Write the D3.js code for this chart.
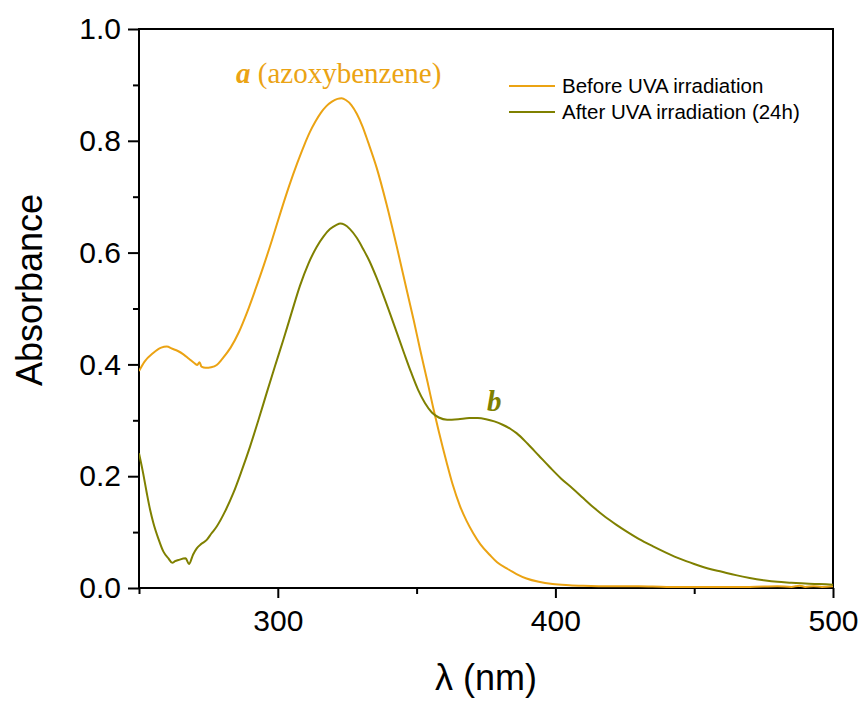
<!DOCTYPE html>
<html>
<head>
<meta charset="utf-8">
<script src="https://cdn.jsdelivr.net/npm/d3@7"></script>
<style>
  html, body { margin: 0; padding: 0; background: #fff; }
  svg { display: block; }
</style>
</head>
<body>
<svg id="chart" width="864" height="702"></svg>
<script>
// ---------- DATA ----------
const beforeWl = [250,252,255,258,260,262,264,266,268,270,271,271.8,272.5,274,276,278,280,283,286,289,292,295,298,301,304,307,309.5,311.5,313.5,315.5,317.5,319.5,321.5,323,324.5,326.5,328.5,330.5,332.5,335.6,339.2,342.8,346.4,349,351.2,354,356,358,360.8,363,365.6,368,370.4,373,376.4,379,382.5,386,389.6,394,399,405,410,420,430,440,450,460,470,480,485,488,490,493,496,500];
const beforeAbs = [0.388,0.405,0.420,0.430,0.432,0.428,0.424,0.418,0.410,0.402,0.399,0.404,0.396,0.394,0.395,0.399,0.410,0.430,0.458,0.494,0.535,0.578,0.624,0.672,0.718,0.760,0.792,0.815,0.834,0.850,0.862,0.870,0.875,0.876,0.873,0.864,0.848,0.826,0.798,0.752,0.686,0.612,0.534,0.478,0.428,0.367,0.322,0.280,0.225,0.185,0.147,0.120,0.098,0.078,0.059,0.046,0.035,0.025,0.017,0.011,0.007,0.005,0.004,0.003,0.003,0.002,0.002,0.002,0.002,0.003,0.002,0.004,0.002,0.003,0.002,0.003];

const afterWl = [250,251.5,252.8,254,255.2,257,258.8,260.6,262,263,264.2,266.8,268,269.5,270.8,272.5,274.4,276,278,281,284,287,290,293,296,299,302,305,308,311,314,316.5,318.8,321,322.5,324,326,328.5,330.8,333,335.5,338,340.5,343,345.5,348,350.5,353,355.5,358,361,365,369,372,375,378,381,384,386,390,394,398,402,406,410,414,418,422,426,430,435,440,445,450,455,460,465,470,475,480,485,490,495,500];
const afterAbs = [0.241,0.205,0.170,0.140,0.116,0.088,0.065,0.053,0.045,0.048,0.050,0.053,0.043,0.060,0.071,0.079,0.086,0.097,0.110,0.137,0.170,0.210,0.253,0.300,0.349,0.397,0.444,0.493,0.541,0.580,0.610,0.629,0.642,0.649,0.652,0.650,0.642,0.626,0.606,0.585,0.556,0.524,0.490,0.455,0.420,0.386,0.355,0.331,0.314,0.305,0.301,0.302,0.304,0.304,0.302,0.298,0.292,0.284,0.277,0.258,0.237,0.216,0.196,0.179,0.161,0.143,0.127,0.113,0.100,0.088,0.075,0.063,0.052,0.043,0.035,0.029,0.023,0.018,0.014,0.011,0.0095,0.008,0.007,0.006];

const xMajorTicks = [300, 400, 500];
const xMinorTicks = [250, 350, 450];
const yMajorTicks = [0.0, 0.2, 0.4, 0.6, 0.8, 1.0];
const yMinorTicks = [0.1, 0.3, 0.5, 0.7, 0.9];

const seriesNames = ["Before UVA irradiation", "After UVA irradiation (24h)"];
const xTitle = "λ (nm)";
const yTitle = "Absorbance";

// ---------- STYLE / LAYOUT ----------
const colBefore = "#EBA313";
const colAfter = "#7F8000";
const sans = "'Liberation Sans', Arial, sans-serif";
const serif = "'Liberation Serif', 'Times New Roman', serif";

const svg = d3.select("#chart");
const L = 139, R = 833, T = 29, B = 588;

const x = d3.scaleLinear().domain([250, 500]).range([L, R]);
const y = d3.scaleLinear().domain([0, 1]).range([B, T]);

// Minor ticks
svg.append("g").attr("transform", `translate(0,${B})`)
  .call(d3.axisBottom(x).tickValues(xMinorTicks).tickSize(6).tickFormat(""))
  .call(g => g.select(".domain").remove())
  .call(g => g.selectAll("line").attr("stroke", "#000").attr("stroke-width", 2));
svg.append("g").attr("transform", `translate(${L},0)`)
  .call(d3.axisLeft(y).tickValues(yMinorTicks).tickSize(6).tickFormat(""))
  .call(g => g.select(".domain").remove())
  .call(g => g.selectAll("line").attr("stroke", "#000").attr("stroke-width", 2));

// Major ticks + labels
svg.append("g").attr("transform", `translate(0,${B})`)
  .call(d3.axisBottom(x).tickValues(xMajorTicks).tickSize(10).tickPadding(12).tickFormat(d3.format("d")))
  .call(g => g.select(".domain").remove())
  .call(g => g.selectAll("line").attr("stroke", "#000").attr("stroke-width", 2))
  .call(g => g.selectAll("text").attr("font-family", sans).attr("font-size", 30).attr("fill", "#000"));
svg.append("g").attr("transform", `translate(${L},0)`)
  .call(d3.axisLeft(y).tickValues(yMajorTicks).tickSize(11).tickPadding(7).tickFormat(d3.format(".1f")))
  .call(g => g.select(".domain").remove())
  .call(g => g.selectAll("line").attr("stroke", "#000").attr("stroke-width", 2))
  .call(g => g.selectAll("text").attr("font-family", sans).attr("font-size", 30).attr("fill", "#000"));

// Frame
svg.append("rect").attr("x", L).attr("y", T).attr("width", R - L).attr("height", B - T)
  .attr("fill", "none").attr("stroke", "#000").attr("stroke-width", 2);

// Lines
const line = d3.line().x(d => x(d[0])).y(d => y(d[1])).curve(d3.curveMonotoneX);
const beforeData = beforeWl.map((w, i) => [w, beforeAbs[i]]);
const afterData = afterWl.map((w, i) => [w, afterAbs[i]]);

svg.append("clipPath").attr("id", "clip").append("rect")
  .attr("x", L).attr("y", T).attr("width", R - L).attr("height", B - T);

svg.append("path").datum(beforeData).attr("d", line)
  .attr("fill", "none").attr("stroke", colBefore).attr("stroke-width", 2).attr("clip-path", "url(#clip)");
svg.append("path").datum(afterData).attr("d", line)
  .attr("fill", "none").attr("stroke", colAfter).attr("stroke-width", 2).attr("clip-path", "url(#clip)");

// Legend
const legend = [[seriesNames[0], colBefore], [seriesNames[1], colAfter]];
legend.forEach((d, i) => {
  const ly = 86 + i * 26;
  svg.append("line").attr("x1", 509).attr("x2", 555).attr("y1", ly).attr("y2", ly)
    .attr("stroke", d[1]).attr("stroke-width", 2);
  svg.append("text").attr("x", 562).attr("y", ly).attr("dy", "0.35em")
    .attr("font-family", sans).attr("font-size", 20.5).attr("fill", "#000").text(d[0]);
});

// Annotations
const ta = svg.append("text").attr("x", 236).attr("y", 83)
  .attr("font-family", serif).attr("font-size", 29).attr("fill", colBefore);
ta.append("tspan").attr("font-weight", "bold").attr("font-style", "italic").text("a");
ta.append("tspan").text(" (azoxybenzene)");

svg.append("text").attr("x", 487).attr("y", 411)
  .attr("font-family", serif).attr("font-size", 29).attr("font-weight", "bold").attr("font-style", "italic")
  .attr("fill", colAfter).text("b");

// Axis titles
svg.append("text").attr("x", (L + R) / 2).attr("y", 690).attr("text-anchor", "middle")
  .attr("font-family", sans).attr("font-size", 36).attr("fill", "#000").text(xTitle);
svg.append("text").attr("transform", "translate(42,290) rotate(-90)").attr("text-anchor", "middle")
  .attr("font-family", sans).attr("font-size", 36).attr("fill", "#000").text(yTitle);
</script>
</body>
</html>
